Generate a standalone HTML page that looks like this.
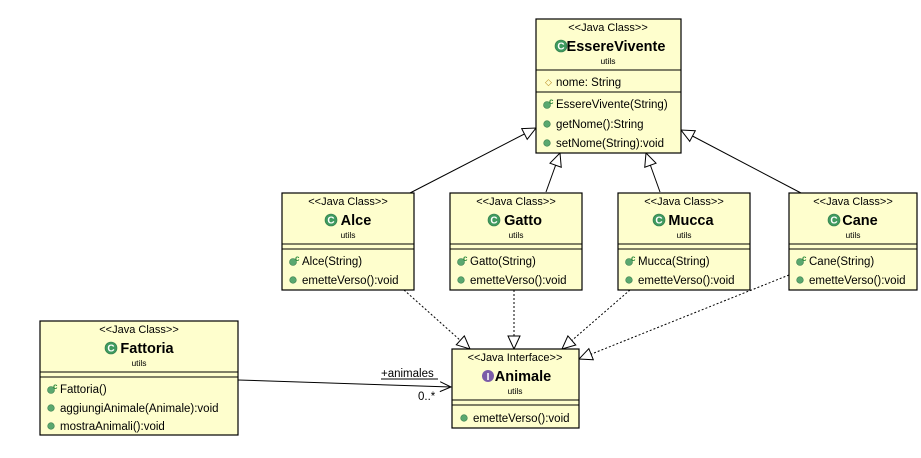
<!DOCTYPE html>
<html><head><meta charset="utf-8"><style>
html,body{margin:0;padding:0;background:#fff;}
svg{display:block;font-family:"Liberation Sans",sans-serif;}
.box{fill:#fefecd;stroke:#000;stroke-width:1.2;}
.st{font-size:11px;text-anchor:middle;}
.nm{font-size:14.5px;font-weight:bold;text-anchor:middle;}
.pk{font-size:8.5px;text-anchor:middle;}
.mb{font-size:11.5px;}
</style></head><body>
<svg width="921" height="458" viewBox="0 0 921 458">
<defs>
<marker id="tri" markerWidth="16" markerHeight="16" refX="14" refY="7" orient="auto" markerUnits="userSpaceOnUse">
<path d="M1,1 L14,7 L1,13 Z" fill="#fff" stroke="#000" stroke-width="1"/></marker>
<marker id="open" markerWidth="14" markerHeight="14" refX="12" refY="6" orient="auto" markerUnits="userSpaceOnUse">
<path d="M1,1 L12,6 L1,11" fill="none" stroke="#000" stroke-width="1"/></marker>
<g id="circ"><circle r="6" fill="#3f9a5f" stroke="#2e7a48" stroke-width="0.6"/><text y="3.6" font-size="10" font-weight="bold" fill="#fff" text-anchor="middle">C</text></g>
<circle id="dot" r="3.3" fill="#5aa86f" stroke="#3d7f50" stroke-width="0.6"/>
<g id="ctor"><circle r="3.5" fill="#5aa86f" stroke="#3d7f50" stroke-width="0.6"/><text x="2" y="-1" font-size="8" font-weight="bold" fill="#2d8a3a">c</text></g>
</defs>

<g stroke="#000" stroke-width="1" fill="none">
<line x1="410" y1="193" x2="536" y2="128" marker-end="url(#tri)"/>
<line x1="546" y1="192" x2="560" y2="153" marker-end="url(#tri)"/>
<line x1="660" y1="192" x2="646" y2="153" marker-end="url(#tri)"/>
<line x1="801" y1="193" x2="681" y2="130" marker-end="url(#tri)"/>
<g stroke-dasharray="2,2">
<line x1="404" y1="290" x2="470" y2="349" marker-end="url(#tri)"/>
<line x1="514" y1="290" x2="514" y2="349" marker-end="url(#tri)"/>
<line x1="630" y1="290" x2="562" y2="349" marker-end="url(#tri)"/>
<line x1="789" y1="275" x2="579" y2="359" marker-end="url(#tri)"/>
</g>
<line x1="238" y1="380" x2="451" y2="387" marker-end="url(#open)"/>
</g>
<text x="381" y="377" font-size="11.5">+animales</text>
<line x1="381" y1="379" x2="438" y2="379" stroke="#000" stroke-width="1"/>
<text x="418" y="400" font-size="11.5">0..*</text>

<rect class="box" x="536" y="19" width="145" height="134"/>
<line x1="536" y1="70" x2="681" y2="70" stroke="#000"/>
<line x1="536" y1="92" x2="681" y2="92" stroke="#000"/>
<text class="st" x="608" y="31">&lt;&lt;Java Class&gt;&gt;</text>
<use href="#circ" x="561" y="46"/><text class="nm" x="616" y="51">EssereVivente</text>
<text class="pk" x="608" y="64">utils</text>
<text x="545" y="85" font-size="9" fill="#b88a1e">◇</text><text class="mb" x="556" y="86">nome: String</text>
<use href="#ctor" x="547" y="105"/><text class="mb" x="556" y="108">EssereVivente(String)</text>
<use href="#dot" x="547" y="124"/><text class="mb" x="556" y="128">getNome():String</text>
<use href="#dot" x="547" y="143"/><text class="mb" x="556" y="147">setNome(String):void</text>

<rect class="box" x="282" y="193" width="132" height="97"/>
<line x1="282" y1="244" x2="414" y2="244" stroke="#000"/><line x1="282" y1="249" x2="414" y2="249" stroke="#000"/>
<text class="st" x="348" y="205">&lt;&lt;Java Class&gt;&gt;</text>
<use href="#circ" x="331" y="220"/><text class="nm" x="356" y="225">Alce</text>
<text class="pk" x="348" y="238">utils</text>
<use href="#ctor" x="293" y="262"/><text class="mb" x="302" y="265">Alce(String)</text>
<use href="#dot" x="293" y="280"/><text class="mb" x="302" y="284">emetteVerso():void</text>

<rect class="box" x="450" y="193" width="132" height="97"/>
<line x1="450" y1="244" x2="582" y2="244" stroke="#000"/><line x1="450" y1="249" x2="582" y2="249" stroke="#000"/>
<text class="st" x="516" y="205">&lt;&lt;Java Class&gt;&gt;</text>
<use href="#circ" x="494" y="220"/><text class="nm" x="523" y="225">Gatto</text>
<text class="pk" x="516" y="238">utils</text>
<use href="#ctor" x="461" y="262"/><text class="mb" x="470" y="265">Gatto(String)</text>
<use href="#dot" x="461" y="280"/><text class="mb" x="470" y="284">emetteVerso():void</text>

<rect class="box" x="618" y="193" width="132" height="97"/>
<line x1="618" y1="244" x2="750" y2="244" stroke="#000"/><line x1="618" y1="249" x2="750" y2="249" stroke="#000"/>
<text class="st" x="684" y="205">&lt;&lt;Java Class&gt;&gt;</text>
<use href="#circ" x="659" y="220"/><text class="nm" x="691" y="225">Mucca</text>
<text class="pk" x="684" y="238">utils</text>
<use href="#ctor" x="629" y="262"/><text class="mb" x="638" y="265">Mucca(String)</text>
<use href="#dot" x="629" y="280"/><text class="mb" x="638" y="284">emetteVerso():void</text>

<rect class="box" x="789" y="193" width="128" height="97"/>
<line x1="789" y1="244" x2="917" y2="244" stroke="#000"/><line x1="789" y1="249" x2="917" y2="249" stroke="#000"/>
<text class="st" x="853" y="205">&lt;&lt;Java Class&gt;&gt;</text>
<use href="#circ" x="834" y="220"/><text class="nm" x="860" y="225">Cane</text>
<text class="pk" x="853" y="238">utils</text>
<use href="#ctor" x="800" y="262"/><text class="mb" x="809" y="265">Cane(String)</text>
<use href="#dot" x="800" y="280"/><text class="mb" x="809" y="284">emetteVerso():void</text>

<rect class="box" x="452" y="349" width="127" height="79"/>
<line x1="452" y1="400" x2="579" y2="400" stroke="#000"/><line x1="452" y1="405" x2="579" y2="405" stroke="#000"/>
<text class="st" x="515" y="361">&lt;&lt;Java Interface&gt;&gt;</text>
<circle cx="488" cy="376" r="6" fill="#7b5ca8"/><text x="488" y="380" font-size="10" font-weight="bold" fill="#fff" text-anchor="middle">I</text>
<text class="nm" x="523" y="381">Animale</text>
<text class="pk" x="515" y="394">utils</text>
<use href="#dot" x="464" y="418"/><text class="mb" x="473" y="422">emetteVerso():void</text>

<rect class="box" x="40" y="321" width="198" height="114"/>
<line x1="40" y1="372" x2="238" y2="372" stroke="#000"/><line x1="40" y1="377" x2="238" y2="377" stroke="#000"/>
<text class="st" x="139" y="333">&lt;&lt;Java Class&gt;&gt;</text>
<use href="#circ" x="111" y="348"/><text class="nm" x="147" y="353">Fattoria</text>
<text class="pk" x="139" y="366">utils</text>
<use href="#ctor" x="51" y="390"/><text class="mb" x="60" y="393">Fattoria()</text>
<use href="#dot" x="51" y="408"/><text class="mb" x="60" y="412">aggiungiAnimale(Animale):void</text>
<use href="#dot" x="51" y="426"/><text class="mb" x="60" y="430">mostraAnimali():void</text>
</svg>
</body></html>
